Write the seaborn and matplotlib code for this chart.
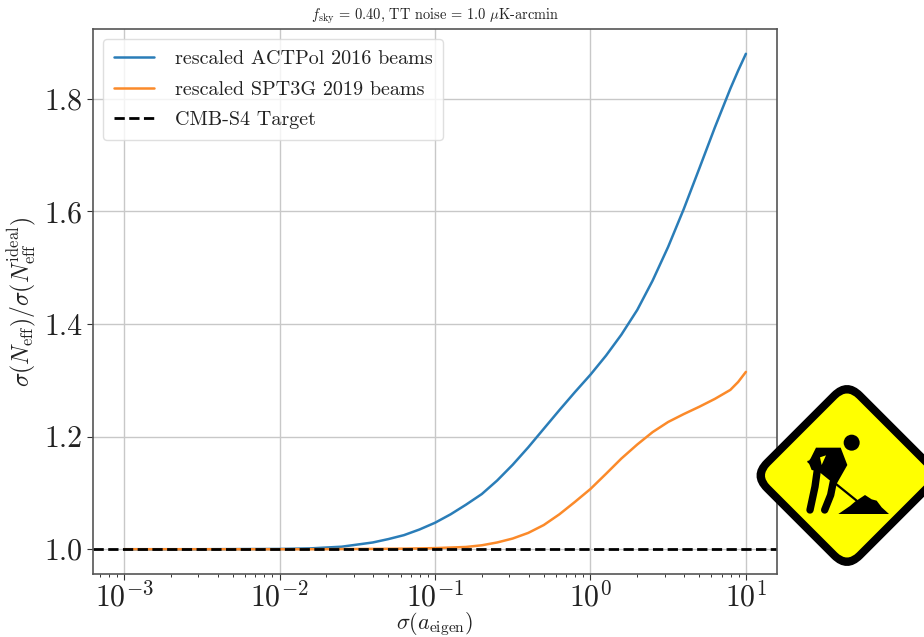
import matplotlib
matplotlib.use("Agg")
import matplotlib.pyplot as plt
import seaborn as sns
from matplotlib.patches import Circle, FancyBboxPatch, Polygon
from matplotlib.transforms import Affine2D

sigma_eigen = [0.001, 0.00316, 0.01, 0.0158, 0.0251, 0.0398, 0.0501, 0.0631, 0.0794, 0.1,
               0.126, 0.158, 0.2, 0.251, 0.316, 0.398, 0.501, 0.631, 0.794, 1.0,
               1.26, 1.58, 2.0, 2.51, 3.16, 3.98, 5.01, 6.31, 7.94, 8.91, 10.0]
actpol = [1.0, 1.0, 1.0005, 1.0015, 1.0045, 1.012, 1.018, 1.025, 1.035, 1.047,
          1.062, 1.079, 1.098, 1.122, 1.15, 1.181, 1.214, 1.247, 1.279, 1.31,
          1.344, 1.381, 1.425, 1.477, 1.537, 1.604, 1.676, 1.749, 1.818, 1.85, 1.88]
spt3g = [1.0, 1.0, 1.0, 1.0, 1.0003, 1.0006, 1.0008, 1.001, 1.0015, 1.002,
         1.003, 1.004, 1.007, 1.012, 1.019, 1.029, 1.043, 1.062, 1.084, 1.107,
         1.134, 1.161, 1.186, 1.208, 1.226, 1.24, 1.253, 1.267, 1.283, 1.297, 1.315]
target = 1.0
y_ticks = [1.0, 1.2, 1.4, 1.6, 1.8]
y_tick_labels = ["1.0", "1.2", "1.4", "1.6", "1.8"]

sns.set_style("ticks")
plt.rcParams["font.family"] = "serif"
plt.rcParams["font.serif"] = ["cmr10"]
plt.rcParams["mathtext.fontset"] = "cm"
plt.rcParams["axes.formatter.use_mathtext"] = True
plt.rcParams["axes.unicode_minus"] = False
plt.rcParams["text.color"] = "#222222"
plt.rcParams["axes.labelcolor"] = "#222222"
plt.rcParams["xtick.labelcolor"] = "#222222"
plt.rcParams["ytick.labelcolor"] = "#222222"

W, H = 924, 637
fig = plt.figure(figsize=(W / 100, H / 100), dpi=100)
ax = fig.add_axes([93 / W, 1 - 574 / H, (777 - 93) / W, (574 - 29) / H])

sns.lineplot(x=sigma_eigen, y=actpol, ax=ax, color="#2a7db8", linewidth=1.8,
             label="rescaled ACTPol 2016 beams")
sns.lineplot(x=sigma_eigen, y=spt3g, ax=ax, color="#fb8a2a", linewidth=1.8,
             label="rescaled SPT3G 2019 beams")
ax.axhline(target, color="black", linestyle="--", linewidth=2, label="CMB-S4 Target")

ax.set_xscale("log")
ax.set_yticks(y_ticks)
ax.set_yticklabels(y_tick_labels)
ax.grid(True, which="major", color="#c8c8c8", linewidth=1.0)
ax.set_axisbelow(True)
ax.tick_params(axis="both", which="major", labelsize=21.5, length=4, width=0.8, color="#333333")
ax.tick_params(axis="x", which="major", pad=1)
ax.tick_params(axis="x", which="minor", length=2.5, width=0.7, color="#333333", bottom=True)
for s in ax.spines.values():
    s.set_color("#555555")
    s.set_linewidth(1.2)

ax.set_xlabel(r"$\sigma(a_{\rm eigen})$", fontsize=16)
ax.xaxis.set_label_coords(0.5, -0.066)
ax.set_ylabel(r"$\sigma(N_{\rm eff})/\sigma(N_{\rm eff}^{\rm ideal})$", fontsize=17)
ax.yaxis.set_label_coords(-0.0804, 0.5)
ax.set_title(r"$f_{\rm sky}$ = 0.40, TT noise = 1.0 $\mu$K-arcmin", fontsize=10.4, pad=7)
ax.legend(loc="upper left", fontsize=14.5, frameon=True, framealpha=0.8, edgecolor="#d8d8d8",
          fancybox=True, labelspacing=0.62, handletextpad=1.0, borderpad=0.55)

# road works sign on top of everything, in image pixels
over = fig.add_axes([0, 0, 1, 1], zorder=10)
over.set_xlim(0, W)
over.set_ylim(H, 0)
over.axis("off")
cx, cy = 847, 475.5
rot = Affine2D().rotate_deg_around(cx, cy, 45) + over.transData
over.add_patch(FancyBboxPatch((cx - 69.5, cy - 69.5), 139, 139, boxstyle="round,pad=0,rounding_size=22",
                              fc="black", ec="black", lw=0, transform=rot, clip_on=False))
over.add_patch(FancyBboxPatch((cx - 61.5, cy - 61.5), 123, 123, boxstyle="round,pad=0,rounding_size=14",
                              fc="#ffff00", ec="#ffff00", lw=0, transform=rot, clip_on=False))


def z(pts):
    return [(740 + a / 3, 370 + b / 3) for a, b in pts]


over.add_patch(Circle(z([(335, 218)])[0], 8, fc="black", ec="none"))
over.add_patch(Polygon(z([(228, 233), (302, 233), (322, 285), (288, 345), (262, 318), (238, 305),
                          (215, 300), (205, 275), (212, 265)]), fc="black", ec="none"))
over.add_patch(Polygon(z([(240, 262), (258, 256), (245, 285)]), fc="#ffff00", ec="none"))
over.add_patch(Polygon(z([(295, 432), (330, 408), (345, 395), (375, 375), (395, 388), (410, 392),
                          (425, 412), (447, 432)]), fc="black", ec="none"))
for pts, lw in [([(232, 300), (225, 350), (210, 420)], 5.3),
                ([(280, 335), (272, 375), (254, 420)], 5.3),
                ([(205, 275), (350, 392)], 1.6)]:
    p = z(pts)
    over.plot([a for a, b in p], [b for a, b in p], color="black", lw=lw, solid_capstyle="round", solid_joinstyle="round")

fig.savefig("out.png", dpi=100)
